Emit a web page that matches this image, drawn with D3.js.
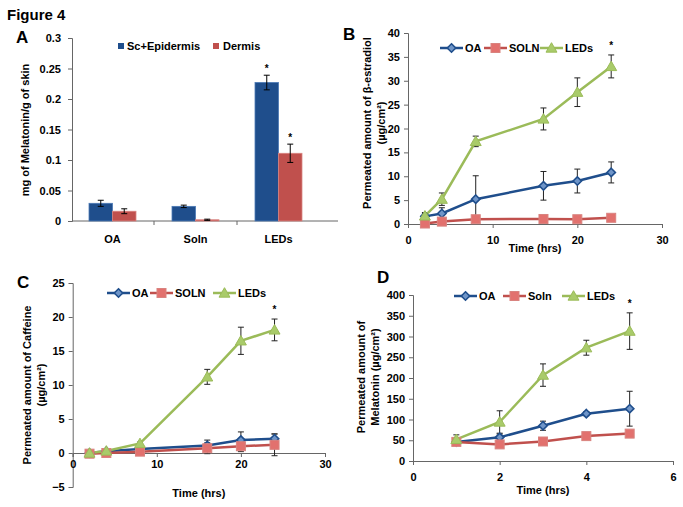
<!DOCTYPE html>
<html><head><meta charset="utf-8">
<script src="https://cdn.jsdelivr.net/npm/d3@7"></script>
<style>body{margin:0;background:#fff}svg{display:block}text{font-family:"Liberation Sans",Arial,sans-serif;font-weight:bold;fill:#000}</style>
</head><body>
<script>
// ---- Panel A data ----
const catsA = ["OA", "Soln", "LEDs"];
const seriesA = ["Sc+Epidermis", "Dermis"];
const epiVals = [0.029, 0.024, 0.227];
const epiErr = [0.005, 0.002, 0.012];
const derVals = [0.016, 0.002, 0.111];
const derErr = [0.004, 0.001, 0.015];
const ticksA = [0, 0.05, 0.1, 0.15, 0.2, 0.25, 0.3];

// ---- Panel B data ----
const timesB = [2, 4, 8, 16, 20, 24];
const bOA = [1.6, 2.2, 5.2, 8.0, 9.0, 10.8];
const bOAErr = [0.8, 1.2, 4.9, 3.0, 2.5, 2.2];
const bSOLN = [0.1, 0.5, 1.0, 1.05, 1.0, 1.3];
const bSOLNErr = [0.3, 0.3, 0.3, 0.3, 0.3, 0.3];
const bLEDs = [1.7, 5.2, 17.3, 22.0, 27.6, 33.0];
const bLEDsErr = [0.5, 1.3, 1.1, 2.3, 3.0, 2.4];

// ---- Panel C data ----
const timesC = [2, 4, 8, 16, 20, 24];
const cOA = [0, 0.25, 0.6, 1.1, 1.9, 2.1];
const cOAErr = [0.2, 0.2, 0.2, 0.8, 1.2, 0.7];
const cSOLN = [-0.1, 0.0, 0.2, 0.7, 1.0, 1.2];
const cSOLNErr = [0.3, 0.2, 0.2, 0.8, 0.8, 1.6];
const cLEDs = [0, 0.3, 1.4, 11.2, 16.5, 18.1];
const cLEDsErr = [0.2, 0.2, 0.2, 1.1, 2.0, 1.6];

// ---- Panel D data ----
const timesD = [1, 2, 3, 4, 5];
const dOA = [46, 57, 85, 114, 126];
const dOAErr = [5, 8, 11, 5, 42];
const dSoln = [46, 40, 47, 60, 66];
const dSolnErr = [4, 5, 5, 8, 5];
const dLEDs = [52, 94, 207, 273, 313];
const dLEDsErr = [11, 27, 27, 18, 44];

const BLUE = "#1F4E8C", RED = "#C0504D", GREEN = "#9BBB59";
const AX = "#666";

const svg = d3.select("body").append("svg").attr("width", 683).attr("height", 507);

svg.append("text").attr("x", 7).attr("y", 20).style("font-size", "15px").text("Figure 4");

// ================= Panel A =================
(function(){
  const g = svg.append("g");
  const x = d3.scaleBand().domain(catsA).range([71, 320]).paddingInner(0.434).paddingOuter(0.217);
  const xs = d3.scaleBand().domain(seriesA).range([0, x.bandwidth()]);
  const y = d3.scaleLinear().domain([0, 0.3]).range([221, 38]);
  g.append("text").attr("x", 16).attr("y", 43).style("font-size", "17px").text("A");
  const ya = g.append("g").attr("transform", "translate(72,0)")
    .call(d3.axisLeft(y).tickValues(ticksA).tickSize(4).tickPadding(7).tickFormat(d => d === 0 ? "0" : String(d)));
  ya.select(".domain").attr("stroke", AX);
  ya.selectAll(".tick line").attr("stroke", AX);
  ya.selectAll("text").style("font-size", "11px").style("font-family", "Liberation Sans, Arial").style("font-weight", "bold").attr("fill", "#000");
  // x axis
  g.append("line").attr("x1", 72).attr("x2", 338).attr("y1", 221).attr("y2", 221).attr("stroke", AX);
  g.selectAll(".ct").data(catsA.map(c => x(c) - x.step()*x.paddingInner()/2).slice(1)).enter().append("line")
    .attr("x1", d => d).attr("x2", d => d).attr("y1", 221).attr("y2", 225).attr("stroke", AX);
  g.selectAll(".cl").data(catsA).enter().append("text")
    .attr("x", c => x(c) + x.bandwidth()/2).attr("y", 243).attr("text-anchor", "middle").style("font-size", "11px").text(c => c);
  const sets = [{name: seriesA[0], vals: epiVals, err: epiErr, color: BLUE, edge: "#4a78b5"},
                {name: seriesA[1], vals: derVals, err: derErr, color: RED, edge: "#d9837f"}];
  sets.forEach(s => {
    catsA.forEach((c, i) => {
      const bx = x(c) + xs(s.name), bw = xs.bandwidth();
      g.append("rect").attr("x", bx).attr("y", y(s.vals[i])).attr("width", bw).attr("height", y(0) - y(s.vals[i]))
        .attr("fill", s.color).attr("stroke", s.edge).attr("stroke-width", 0.8);
      const cx = bx + bw/2, t = y(s.vals[i] + s.err[i]), b = y(s.vals[i] - s.err[i]);
      g.append("line").attr("x1", cx).attr("x2", cx).attr("y1", t).attr("y2", b).attr("stroke", "#000");
      g.append("line").attr("x1", cx-3).attr("x2", cx+3).attr("y1", t).attr("y2", t).attr("stroke", "#000");
      g.append("line").attr("x1", cx-3).attr("x2", cx+3).attr("y1", b).attr("y2", b).attr("stroke", "#000");
      if (c === "LEDs") g.append("text").attr("x", cx).attr("y", t - 3).attr("text-anchor", "middle").style("font-size", "10px").text("*");
    });
  });
  // legend
  g.append("rect").attr("x", 118).attr("y", 43).attr("width", 6).attr("height", 6).attr("fill", BLUE);
  g.append("text").attr("x", 127).attr("y", 50).style("font-size", "11px").text(seriesA[0]);
  g.append("rect").attr("x", 213).attr("y", 43).attr("width", 6).attr("height", 6).attr("fill", RED);
  g.append("text").attr("x", 223).attr("y", 50).style("font-size", "11px").text(seriesA[1]);
  g.append("text").attr("transform", "translate(29,130) rotate(-90)").attr("text-anchor", "middle").style("font-size", "11px").text("mg of Melatonin/g of skin");
})();

// ================= line panels =================
function marker(g, type, cx, cy) {
  if (type === "diamond") {
    const r = 4.2;
    g.append("path").attr("d", `M${cx},${cy-r}L${cx+r},${cy}L${cx},${cy+r}L${cx-r},${cy}Z`)
      .attr("fill", "#6F95C8").attr("stroke", BLUE).attr("stroke-width", 1.6);
  } else if (type === "square") {
    g.append("rect").attr("x", cx-4.5).attr("y", cy-4.5).attr("width", 9).attr("height", 9)
      .attr("fill", "#E2716E").attr("stroke", "#D9837F").attr("stroke-width", 1);
  } else {
    g.append("path").attr("d", d3.symbol(d3.symbolTriangle, 52)()).attr("transform", `translate(${cx},${cy+1})`)
      .attr("fill", "#A9CB6A").attr("stroke", GREEN).attr("stroke-width", 1);
  }
}

function linePanel(o) {
  const g = svg.append("g");
  const x = d3.scaleLinear().domain(o.xd).range(o.xr);
  const y = d3.scaleLinear().domain(o.yd).range(o.yr);
  const ya = g.append("g").attr("transform", `translate(${o.xr[0]},0)`)
    .call(d3.axisLeft(y).tickValues(o.yt).tickSize(4).tickPadding(4).tickFormat(d3.format("d")));
  const xa = g.append("g").attr("transform", `translate(0,${y(0)})`)
    .call(d3.axisBottom(x).tickValues(o.xt).tickSize(4).tickPadding(o.xpad).tickFormat(d3.format("d")));
  [ya, xa].forEach(a => {
    a.select(".domain").attr("stroke", AX);
    a.selectAll(".tick line").attr("stroke", AX);
    a.selectAll("text").style("font-size", "11px").style("font-family", "Liberation Sans, Arial").style("font-weight", "bold").attr("fill", "#000");
  });
  g.append("text").attr("x", o.letter[0]).attr("y", o.letter[1]).style("font-size", "17px").text(o.letter[2]);
  g.append("text").attr("x", (o.xr[0]+o.xr[1])/2).attr("y", o.titleY).attr("text-anchor", "middle").style("font-size", "11px").text("Time (hrs)");
  o.ylab.forEach(l => {
    g.append("text").attr("transform", `translate(${l[0]},${o.ylabY}) rotate(-90)`).attr("text-anchor", "middle").style("font-size", "11px").text(l[1]);
  });
  const line = d3.line().x(d => x(d[0])).y(d => y(d[1]));
  o.series.forEach(s => {
    s.vals.forEach((v, i) => {
      const cx = x(o.times[i]), t = y(v + s.err[i]), b = y(v - s.err[i]);
      g.append("line").attr("x1", cx).attr("x2", cx).attr("y1", t).attr("y2", b).attr("stroke", "#222");
      g.append("line").attr("x1", cx-3).attr("x2", cx+3).attr("y1", t).attr("y2", t).attr("stroke", "#222");
      g.append("line").attr("x1", cx-3).attr("x2", cx+3).attr("y1", b).attr("y2", b).attr("stroke", "#222");
    });
  });
  o.series.forEach(s => {
    g.append("path").datum(o.times.map((t, i) => [t, s.vals[i]])).attr("d", line)
      .attr("fill", "none").attr("stroke", s.color).attr("stroke-width", 2.5);
  });
  o.series.forEach(s => {
    s.vals.forEach((v, i) => marker(g, s.type, x(o.times[i]), y(v)));
  });
  const last = o.series[2];
  const li = o.times.length - 1;
  g.append("text").attr("x", x(o.times[li])).attr("y", y(last.vals[li] + last.err[li]) - 6).attr("text-anchor", "middle").style("font-size", "10px").text("*");
  o.series.forEach((s, i) => {
    const lx = o.leg[i], ly = o.legY;
    g.append("line").attr("x1", lx).attr("x2", lx + 23).attr("y1", ly).attr("y2", ly).attr("stroke", s.color).attr("stroke-width", 2.5);
    marker(g, s.type, lx + 11.5, ly);
    g.append("text").attr("x", lx + 25).attr("y", ly + 4).style("font-size", "11px").text(s.name);
  });
}

linePanel({
  xd: [0, 30], xr: [408, 662], yd: [0, 40], yr: [224, 33],
  xt: [0, 10, 20, 30], yt: d3.range(0, 41, 5), xpad: 8,
  times: timesB, letter: [343, 40, "B"], titleY: 252,
  ylab: [[371, "Permeated amount of β-estradiol"], [385, "(µg/cm²)"]], ylabY: 123,
  legY: 48, leg: [440, 484, 540],
  series: [
    {name: "OA", vals: bOA, err: bOAErr, color: BLUE, type: "diamond"},
    {name: "SOLN", vals: bSOLN, err: bSOLNErr, color: RED, type: "square"},
    {name: "LEDs", vals: bLEDs, err: bLEDsErr, color: GREEN, type: "triangle"}
  ]
});

linePanel({
  xd: [0, 30], xr: [72.7, 325], yd: [-5, 25], yr: [487, 283],
  xt: [0, 10, 20, 30], yt: d3.range(-5, 26, 5), xpad: 3,
  times: timesC, letter: [17, 288, "C"], titleY: 497,
  ylab: [[31, "Permeated amount of Caffeine"], [45, "(µg/cm²)"]], ylabY: 385,
  legY: 293, leg: [107, 150, 213],
  series: [
    {name: "OA", vals: cOA, err: cOAErr, color: BLUE, type: "diamond"},
    {name: "SOLN", vals: cSOLN, err: cSOLNErr, color: RED, type: "square"},
    {name: "LEDs", vals: cLEDs, err: cLEDsErr, color: GREEN, type: "triangle"}
  ]
});

linePanel({
  xd: [0, 6], xr: [413, 673], yd: [0, 400], yr: [461, 295],
  xt: [0, 2, 4, 6], yt: d3.range(0, 401, 50), xpad: 8,
  times: timesD, letter: [377, 283, "D"], titleY: 494,
  ylab: [[365, "Permeated amount of"], [379, "Melatonin (µg/cm²)"]], ylabY: 377,
  legY: 296, leg: [454, 503, 562],
  series: [
    {name: "OA", vals: dOA, err: dOAErr, color: BLUE, type: "diamond"},
    {name: "Soln", vals: dSoln, err: dSolnErr, color: RED, type: "square"},
    {name: "LEDs", vals: dLEDs, err: dLEDsErr, color: GREEN, type: "triangle"}
  ]
});
</script>
</body></html>
